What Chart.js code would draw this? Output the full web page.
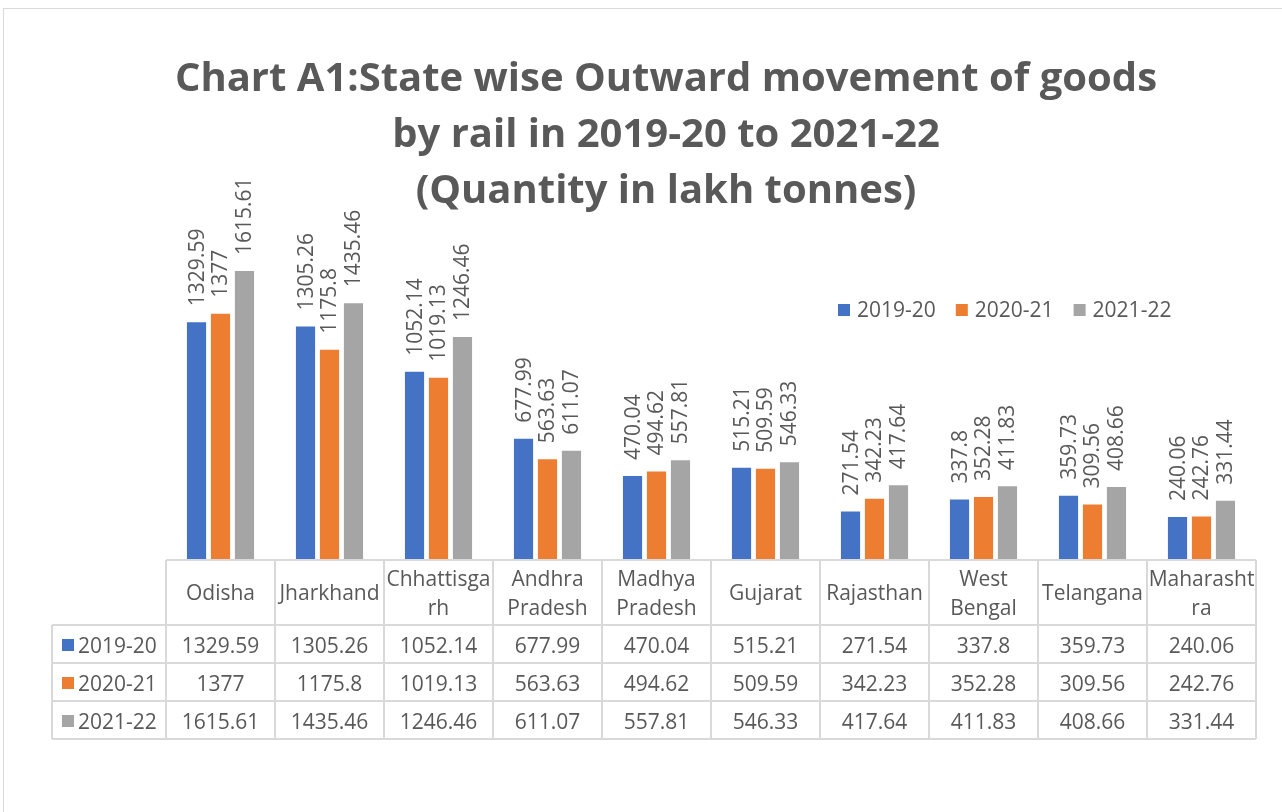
<!DOCTYPE html>
<html>
<head>
<meta charset="utf-8">
<script src="https://cdn.jsdelivr.net/npm/chart.js@4.4.1/dist/chart.umd.min.js"></script>
<style>
  html, body { margin: 0; padding: 0; background: #fff; overflow: hidden; }
  #frame {
    position: absolute;
    left: 3px;
    top: 8px;
    border: 1px solid #d9d9d9;
  }
  canvas { display: block; }
</style>
</head>
<body>
<div id="frame"><canvas id="chart" width="1324" height="850"></canvas></div>
<script>
// chart data
const categories = [
  ["Odisha"], ["Jharkhand"], ["Chhattisga", "rh"], ["Andhra", "Pradesh"], ["Madhya", "Pradesh"],
  ["Gujarat"], ["Rajasthan"], ["West", "Bengal"], ["Telangana"], ["Maharasht", "ra"]
];
const seriesNames = ["2019-20", "2020-21", "2021-22"];
const values2019 = [1329.59, 1305.26, 1052.14, 677.99, 470.04, 515.21, 271.54, 337.8, 359.73, 240.06];
const values2020 = [1377, 1175.8, 1019.13, 563.63, 494.62, 509.59, 342.23, 352.28, 309.56, 242.76];
const values2021 = [1615.61, 1435.46, 1246.46, 611.07, 557.81, 546.33, 417.64, 411.83, 408.66, 331.44];
const titleLines = [
  "Chart A1:State wise Outward movement of goods",
  "by rail in 2019-20 to 2021-22",
  "(Quantity in lakh tonnes)"
];

const colors = ["#4472C4", "#ED7D31", "#A5A5A5"];
const textColor = "#595959";
const gridColor = "#d9d9d9";
const fontFamily = "'Open Sans', sans-serif";

// value labels above each bar, rotated
const barLabels = {
  id: "barLabels",
  afterDatasetsDraw(chart) {
    const ctx = chart.ctx;
    ctx.save();
    ctx.font = "21px " + fontFamily;
    ctx.fillStyle = textColor;
    ctx.textAlign = "left";
    ctx.textBaseline = "middle";
    chart.data.datasets.forEach((ds, i) => {
      chart.getDatasetMeta(i).data.forEach((bar, j) => {
        ctx.save();
        ctx.translate(bar.x + 1, bar.y - 16);
        ctx.rotate(-Math.PI / 2);
        ctx.fillText(String(ds.data[j]), 0, 0);
        ctx.restore();
      });
    });
    ctx.restore();
  }
};

// legend drawn inside the plot, top right
const insideLegend = {
  id: "insideLegend",
  afterDraw(chart) {
    const ctx = chart.ctx;
    ctx.save();
    ctx.font = "21px " + fontFamily;
    ctx.textBaseline = "middle";
    let x = 834;
    const y = 301;
    seriesNames.forEach((name, i) => {
      ctx.fillStyle = colors[i];
      ctx.fillRect(x, y - 6, 12, 12);
      ctx.fillStyle = textColor;
      ctx.fillText(name, x + 19, y + 1);
      x += 19 + ctx.measureText(name).width + 20;
    });
    ctx.restore();
  }
};

// data table under the bars
const dataTable = {
  id: "dataTable",
  afterDraw(chart) {
    const ctx = chart.ctx;
    const area = chart.chartArea;
    const xs = chart.scales.x;
    const n = categories.length;
    const colW = (area.right - area.left) / n;
    const top = area.bottom;
    const headH = 65;
    const rowH = 38;
    const tableLeft = 48;
    const bottom = top + headH + rowH * 3;
    const rows = [values2019, values2020, values2021];

    ctx.save();
    ctx.strokeStyle = gridColor;
    ctx.lineWidth = 2;
    ctx.beginPath();
    // axis line / header top
    ctx.moveTo(area.left, top);
    ctx.lineTo(area.right, top);
    for (let r = 0; r <= 3; r++) {
      const y = top + headH + rowH * r;
      ctx.moveTo(tableLeft, y);
      ctx.lineTo(area.right, y);
    }
    for (let c = 0; c <= n; c++) {
      const x = area.left + colW * c;
      ctx.moveTo(x, top);
      ctx.lineTo(x, bottom);
    }
    ctx.moveTo(tableLeft, top + headH);
    ctx.lineTo(tableLeft, bottom);
    ctx.stroke();

    ctx.font = "21px " + fontFamily;
    ctx.fillStyle = textColor;
    ctx.textAlign = "center";
    ctx.textBaseline = "middle";
    categories.forEach((lines, j) => {
      const cx = xs.getPixelForValue(j);
      const cy = top + headH / 2 + 2;
      if (lines.length === 1) {
        ctx.fillText(lines[0], cx, cy);
      } else {
        ctx.fillText(lines[0], cx, cy - 14);
        ctx.fillText(lines[1], cx, cy + 15);
      }
    });

    rows.forEach((vals, r) => {
      const cy = top + headH + rowH * r + rowH / 2;
      ctx.fillStyle = colors[r];
      ctx.fillRect(58, cy - 5, 12, 12);
      ctx.fillStyle = textColor;
      ctx.textAlign = "left";
      ctx.fillText(seriesNames[r], 74, cy + 3);
      ctx.textAlign = "center";
      vals.forEach((v, j) => {
        ctx.fillText(String(v), xs.getPixelForValue(j), cy + 3);
      });
    });
    ctx.restore();
  }
};

new Chart(document.getElementById("chart"), {
  type: "bar",
  data: {
    labels: categories,
    datasets: [
      { label: seriesNames[0], data: values2019, backgroundColor: colors[0] },
      { label: seriesNames[1], data: values2020, backgroundColor: colors[1] },
      { label: seriesNames[2], data: values2021, backgroundColor: colors[2] }
    ]
  },
  options: {
    responsive: false,
    animation: false,
    datasets: {
      bar: { categoryPercentage: 0.66, barPercentage: 0.8 }
    },
    layout: {
      padding: { left: 72, right: 72, top: 0, bottom: 299 }
    },
    scales: {
      x: { display: false },
      y: {
        min: 0,
        max: 1800,
        ticks: { display: false },
        grid: { display: false },
        border: { display: false },
        afterFit(scale) { scale.width = 90; }
      }
    },
    plugins: {
      legend: { display: false },
      tooltip: { enabled: false },
      title: {
        display: true,
        text: titleLines,
        color: textColor,
        font: { family: fontFamily, size: 40, weight: "bold", lineHeight: "56px" },
        padding: { top: 43, bottom: 18 }
      }
    }
  },
  plugins: [barLabels, insideLegend, dataTable]
});
</script>
</body>
</html>
